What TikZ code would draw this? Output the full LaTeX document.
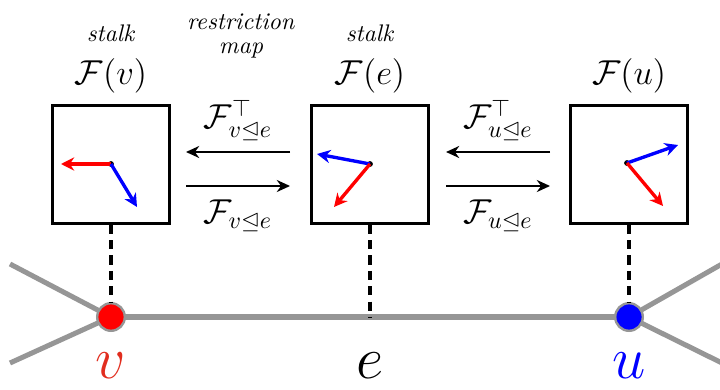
\documentclass[tikz,border=0pt]{standalone}
\usepackage{amssymb}
\usetikzlibrary{arrows.meta}
\definecolor{edgegray}{RGB}{150,150,150}
\definecolor{vred}{RGB}{225,45,30}
\begin{document}
\begin{tikzpicture}[x=0.4167pt,y=-0.4167pt,
  stalkbox/.style={draw=black,line width=1.2pt,minimum width=49pt,minimum height=49pt,inner sep=0pt},
  vecr/.style={red,line width=1.4pt,-{Stealth[length=5.5pt,width=5.5pt]}},
  vecb/.style={blue,line width=1.4pt,-{Stealth[length=5.5pt,width=5.5pt]}},
  maparrow/.style={black,line width=1pt,-{Stealth[length=5.5pt,width=5pt]}},
  gedge/.style={edgegray,line width=2.1pt},
  dashln/.style={black,line width=1.4pt,dash pattern=on 3.8pt off 2.6pt},
  vert/.style={circle,draw=edgegray,line width=1pt,minimum size=11.5pt,inner sep=0pt},
  dotc/.style={circle,fill=black,inner sep=0pt,minimum size=2.4pt}]
\useasboundingbox (0,0) rectangle (720,389);
% graph edges
\coordinate (ul) at (10,264);
\coordinate (dl) at (10,363);
\coordinate (ur) at (722,264);
\coordinate (dr) at (722,363);
\coordinate (em) at (370,317);
\coordinate (pv) at (111,317);
\coordinate (pu) at (629,317);
\draw[gedge] (ul) -- (pv);
\draw[gedge] (dl) -- (pv);
\draw[gedge] (ur) -- (pu);
\draw[gedge] (dr) -- (pu);
\draw[gedge] (pv) -- (pu);
% boxes
\node[stalkbox] (bv) at (111,164.5) {};
\node[stalkbox] (be) at (370,164.5) {};
\node[stalkbox] (bu) at (629,164.5) {};
% vertices
\node[vert,fill=red] (v) at (pv) {};
\node[vert,fill=blue] (u) at (pu) {};
% dashed
\draw[dashln] (bv.south) -- (v.north);
\draw[dashln] (be.south) -- (em);
\draw[dashln] (bu.south) -- (u.north);
% labels
\node[text=vred,font=\Huge] (lv) at (111,366) {$v$};
\node[font=\Huge] (le) at (370,366) {$e$};
\node[text=blue,font=\Huge] (lu) at (629,366) {$u$};
\node[font=\Large] (fv) at (111,76) {$\mathcal{F}(v)$};
\node[font=\Large] (fe) at (370,76) {$\mathcal{F}(e)$};
\node[font=\Large] (fu) at (629,76) {$\mathcal{F}(u)$};
\node (sv) at (111,33) {\textit{stalk}};
\node (se) at (370,33) {\textit{stalk}};
\node[align=center,inner sep=0pt] (rm) at (241,36) {\textit{restriction}\\[-2pt]\textit{map}};
% map arrows
\coordinate (a1s) at (290,152); \coordinate (a1e) at (186,152);
\coordinate (a2s) at (186,186); \coordinate (a2e) at (290,186);
\coordinate (a3s) at (550,152); \coordinate (a3e) at (446,152);
\coordinate (a4s) at (446,186); \coordinate (a4e) at (550,186);
\draw[maparrow] (a1s) -- (a1e);
\draw[maparrow] (a2s) -- (a2e);
\draw[maparrow] (a3s) -- (a3e);
\draw[maparrow] (a4s) -- (a4e);
\node[font=\Large] (t1) at (238,120) {$\mathcal{F}_{v\trianglelefteq e}^{\top}$};
\node[font=\Large] (t2) at (238,216) {$\mathcal{F}_{v\trianglelefteq e}$};
\node[font=\Large] (t3) at (498,120) {$\mathcal{F}_{u\trianglelefteq e}^{\top}$};
\node[font=\Large] (t4) at (498,216) {$\mathcal{F}_{u\trianglelefteq e}$};
% vectors
\node[dotc] (ov) at (111,164) {};
\node[dotc] (oe) at (370,164) {};
\node[dotc] (ou) at (627,163) {};
\coordinate (vr) at (61,164); \coordinate (vb) at (137,207);
\coordinate (eb) at (317,154); \coordinate (er) at (334,207);
\coordinate (ub) at (678,145); \coordinate (ur2) at (663,206);
\draw[vecr] (ov.center) -- (vr);
\draw[vecb] (ov.center) -- (vb);
\draw[vecb] (oe.center) -- (eb);
\draw[vecr] (oe.center) -- (er);
\draw[vecb] (ou.center) -- (ub);
\draw[vecr] (ou.center) -- (ur2);
\end{tikzpicture}
\end{document}
